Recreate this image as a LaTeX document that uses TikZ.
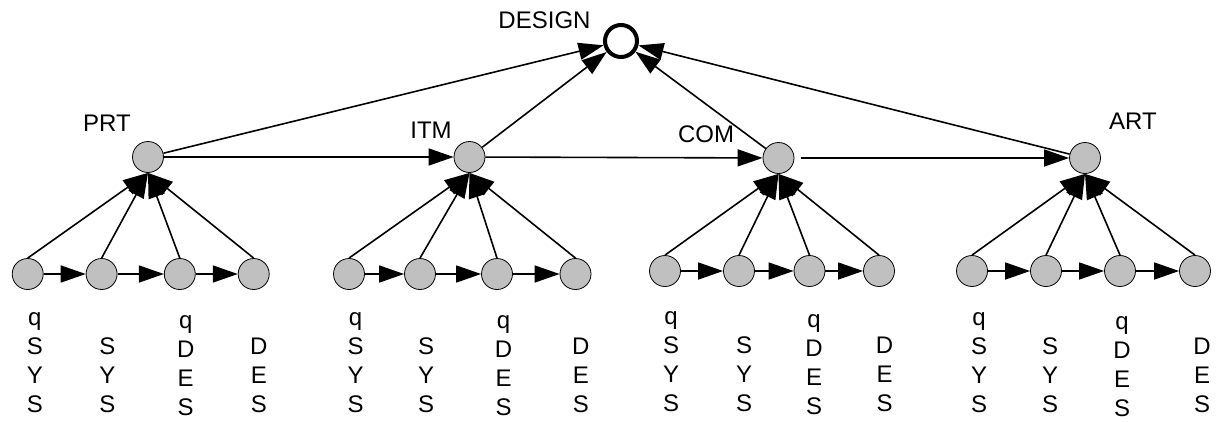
\documentclass[tikz,border=0pt]{standalone}
\usepackage{fontspec}
\setmainfont{Liberation Sans}
\usetikzlibrary{arrows.meta}
\definecolor{ndgray}{RGB}{192,192,192}
\begin{document}
\begin{tikzpicture}[x=1pt,y=-1pt,
  nd/.style={circle,draw=black,line width=0.8pt,fill=ndgray,minimum size=31pt,inner sep=0pt},
  top/.style={circle,draw=black,line width=4pt,minimum size=32pt,inner sep=0pt},
  lbl/.style={font=\fontsize{24}{29}\selectfont,inner sep=0pt,anchor=base},
  col/.style={font=\fontsize{24}{29}\selectfont,inner sep=0pt,anchor=south,align=center},
  arr/.style={line width=1.6pt,-{Triangle[length=25pt,width=17pt]}},
  ln/.style={line width=1.6pt}]
\useasboundingbox (0,0) rectangle (1221,421);
% top node
\node[top] (D) at (621,41) {};
\node[lbl] (Dl) at (544.5,28.5) {DESIGN};
% parents
\node[nd] (P1) at (148,157) {};
\node[nd] (P2) at (469.5,157) {};
\node[nd] (P3) at (778.5,158) {};
\node[nd] (P4) at (1085,158) {};
\node[lbl] (L1) at (107,131.5) {PRT};
\node[lbl] (L2) at (431,138.5) {ITM};
\node[lbl] (L3) at (706,142.5) {COM};
\node[lbl] (L4) at (1133,129.5) {ART};
% children
\foreach \g/\y/\a/\b/\c/\d in {1/274/27.7/101.6/179.8/253.7, 2/274/349/420/497/575.5, 3/271/665/739/809.5/879, 4/271/972/1046/1120/1195}{
  \node[nd] (c\g a) at (\a,\y) {};
  \node[nd] (c\g b) at (\b,\y) {};
  \node[nd] (c\g c) at (\c,\y) {};
  \node[nd] (c\g d) at (\d,\y) {};
  \draw[arr] (c\g a) -- (c\g b);
  \draw[arr] (c\g b) -- (c\g c);
  \draw[arr] (c\g c) -- (c\g d);
  \draw[arr] (c\g a.north) -- (P\g.south);
  \draw[arr] (c\g b.north) -- (P\g.south);
  \draw[arr] (c\g c.north) -- (P\g.south);
  \draw[arr] (c\g d.north) -- (P\g.south);
}
% top connectors
\draw[arr] (P1) -- (D);
\draw[arr] (P2) -- (D);
\draw[arr] (P3) -- (D);
\draw[arr] (P4) -- (D);
\draw[arr] (P1) -- (P2);
\draw[arr] (P2) -- (P3);
\draw[arr,shorten <=7pt] (P3) -- (P4);
% labels
\foreach \x/\yy/\t in {
  34.8/413/{q\\S\\Y\\S}, 107.5/413/{S\\Y\\S}, 185.7/415.5/{q\\D\\E\\S}, 258.8/413/{D\\E\\S},
  355.6/413/{q\\S\\Y\\S}, 426/413/{S\\Y\\S}, 503.6/415.5/{q\\D\\E\\S}, 580.8/413/{D\\E\\S},
  671/412/{q\\S\\Y\\S}, 744/412/{S\\Y\\S}, 814/415/{q\\D\\E\\S}, 884.5/412/{D\\E\\S},
  979/413/{q\\S\\Y\\S}, 1050/413/{S\\Y\\S}, 1122/416.5/{q\\D\\E\\S}, 1202/413/{D\\E\\S}}{
  \node[col] at (\x,\yy) {\t};
}
\end{tikzpicture}
\end{document}
